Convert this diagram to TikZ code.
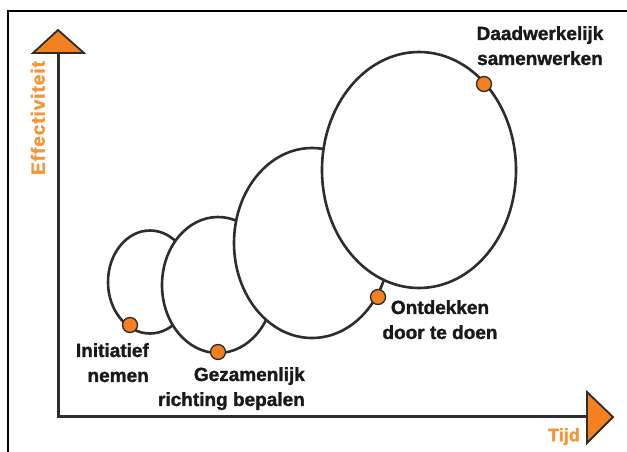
\documentclass[tikz,border=0pt]{standalone}
\usepackage{fontspec}
\setmainfont{Liberation Sans}
\newfontfamily\heavyfont{Liberation Sans}[BoldFeatures={FakeBold=1.5}]
\usetikzlibrary{shapes.geometric}
\definecolor{ink}{RGB}{45,45,45}
\definecolor{accent}{RGB}{245,128,31}
\definecolor{accenttext}{RGB}{243,150,55}
\begin{document}
\begin{tikzpicture}[x=1pt,y=-1pt,
  loop/.style={ellipse, draw=ink, line width=2.6pt, fill=white, inner sep=0pt},
  milestone/.style={circle, draw=ink, line width=1.3pt, fill=accent, minimum size=15pt, inner sep=0pt},
  caption/.style={font=\heavyfont\fontsize{19}{25}\selectfont\bfseries, text=black!90, inner sep=0pt},
  axislabel/.style={font=\heavyfont\fontsize{18}{22}\selectfont\bfseries, text=accenttext, inner sep=0pt},
  axis/.style={draw=ink, line width=3pt},
  arrowhead/.style={draw=ink, line width=1.8pt, fill=accent, line join=miter}]
\useasboundingbox (0,0) rectangle (627,452);
\fill[white] (0,0) rectangle (627,452);
% frame along the top and left edge
\draw[black, line width=2.2pt] (8.3,452) |- (627,11);

% growing loops, each one lying over the previous
\node[loop, minimum width=84pt, minimum height=103pt] (stage1) at (150,282) {};
\node[loop, minimum width=112pt, minimum height=136pt] (stage2) at (218,285) {};
\node[loop, minimum width=156pt, minimum height=190pt] (stage3) at (312,243) {};
\node[loop, minimum width=194pt, minimum height=236pt] (stage4) at (419,170) {};

% milestones
\node[milestone] (m1) at (130,325) {};
\node[milestone] (m2) at (218,352) {};
\node[milestone] (m3) at (378,297) {};
\node[milestone] (m4) at (484,84) {};

% axes
\coordinate (origin) at (58,416);
\coordinate (ytip) at (58,53);
\coordinate (xtip) at (587,416);
\draw[axis] (ytip) -- (origin) -- (xtip);
\draw[arrowhead] (33,53) -- (58,30) -- (84,53) -- cycle;
\draw[arrowhead] (587,392) -- (613,417) -- (587,443) -- cycle;

% labels
\node[caption, align=center, anchor=north] (l4) at (540,26) {Daadwerkelijk\\samenwerken};
\node[caption, align=center, anchor=north] (l3) at (440,300) {Ontdekken\\door te doen};
\node[caption, align=right, anchor=north east] (l1) at (149,343) {Initiatief\\nemen};
\node[caption, align=right, anchor=north east] (l2) at (305,367) {Gezamenlijk\\richting bepalen};
\node[axislabel, anchor=north] (tl) at (564,428) {Tijd};
\node[axislabel, font=\heavyfont\fontsize{19}{22}\selectfont\bfseries\addfontfeature{LetterSpace=5},
      rotate=90, anchor=south] (el) at (45,118) {Effectiviteit};
\end{tikzpicture}
\end{document}
